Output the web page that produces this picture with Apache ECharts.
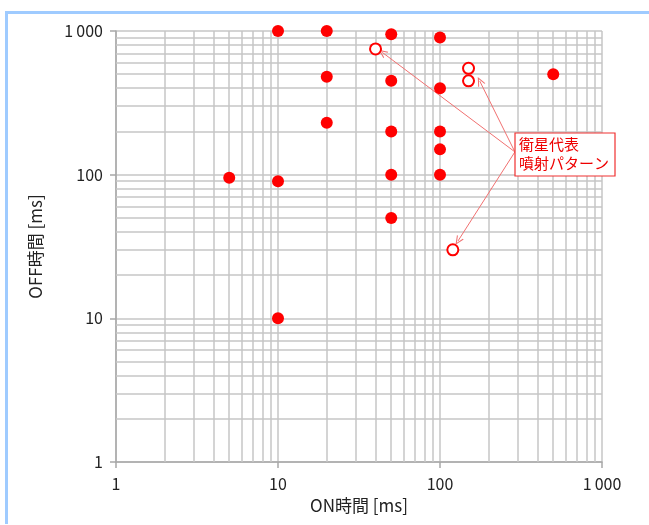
<!DOCTYPE html>
<html>
<head>
<meta charset="utf-8">
<script src="https://cdn.jsdelivr.net/npm/echarts@6/dist/echarts.min.js"></script>
<style>
  html, body { margin: 0; padding: 0; background: #fff; }
  #chart { width: 649px; height: 525px; }
</style>
</head>
<body>
<div id="chart"></div>
<script>
  // 測定パターン (ON時間, OFF時間)
  const onTimes  = [5, 10, 10, 10, 20, 20, 20, 50, 50, 50, 50, 50, 100, 100, 100, 100, 100, 500];
  const offTimes = [95, 1000, 90, 10, 1000, 480, 230, 950, 450, 200, 100, 50, 900, 400, 200, 150, 100, 500];

  // 衛星代表噴射パターン
  const satOn  = [40, 150, 150, 120];
  const satOff = [750, 550, 450, 30];

  // 矢印の先端 (衛星パターンの近く)
  const arrowFrom = [290, 144];
  const arrowTo = [[44, 710], [176, 448], [129, 34.5]];

  const tickLabels = { 1: '1', 10: '10', 100: '100', 1000: '1\u2009000' };
  const minorValues = [];
  [1, 10, 100].forEach(d => { for (let k = 2; k <= 9; k++) minorValues.push(k * d); });

  const gridColor = '#c6c6c6';
  const fontFamily = '"Noto Sans CJK JP", "Noto Sans", sans-serif';

  let myChart = echarts.init(document.getElementById('chart'));

  const logAxis = (name, isY) => ({
    type: 'log',
    logBase: 10,
    min: 1,
    max: 1000,
    name: name,
    nameLocation: 'middle',
    nameGap: isY ? 72 : 30,
    nameTextStyle: { fontFamily: fontFamily, fontSize: 17, color: '#222' },
    axisLine: { show: true, lineStyle: { color: '#a8a8a8', width: 1.5 } },
    axisTick: { show: true, inside: false, length: 6, lineStyle: { color: '#a8a8a8', width: 1.5 } },
    axisLabel: {
      fontFamily: fontFamily, fontSize: 16, color: '#222',
      margin: isY ? 13 : 14,
      formatter: v => tickLabels[Math.round(v)] || ''
    },
    splitLine: { show: true, lineStyle: { color: gridColor, width: 1.5 } },
    minorTick: { show: false },
    minorSplitLine: { show: false }
  });

  const option = {
    animation: false,
    grid: { left: 116, right: 47, top: 31, bottom: 63 },
    xAxis: logAxis('ON時間 [ms]', false),
    yAxis: logAxis('OFF時間 [ms]', true),
    graphic: [
      { type: 'rect', shape: { x: 5, y: 11, width: 644, height: 3 }, style: { fill: '#9fcbff' }, silent: true },
      { type: 'rect', shape: { x: 5, y: 11, width: 3, height: 513 }, style: { fill: '#9fcbff' }, silent: true },
      {
        type: 'rect', z: 100, silent: true,
        shape: { x: 515, y: 133, width: 100, height: 43 },
        style: { fill: '#fff', stroke: '#f03030', lineWidth: 1.2 }
      },
      {
        type: 'text', z: 101, silent: true, x: 519, y: 135,
        style: { text: '衛星代表\n噴射パターン', fill: '#ee0000', font: '15px ' + fontFamily, lineHeight: 19 }
      }
    ],
    series: [
      {
        // 補助目盛線
        type: 'scatter',
        data: [],
        silent: true,
        markLine: {
          silent: true,
          symbol: ['none', 'none'],
          animation: false,
          label: { show: false },
          lineStyle: { color: gridColor, width: 1.5, type: 'solid' },
          data: minorValues.map(v => ({ xAxis: v })).concat(minorValues.map(v => ({ yAxis: v })))
        },
        z: 1
      },
      {
        name: '測定',
        type: 'scatter',
        symbol: 'circle',
        symbolSize: 12,
        itemStyle: { color: '#ff0000', opacity: 1 },
        data: onTimes.map((v, i) => [v, offTimes[i]]),
        z: 5
      },
      {
        name: '衛星代表噴射パターン',
        type: 'scatter',
        symbol: 'circle',
        symbolSize: 11,
        itemStyle: { color: '#fff', borderColor: '#ff0000', borderWidth: 2, opacity: 1 },
        data: satOn.map((v, i) => [v, satOff[i]]),
        markLine: {
          silent: true,
          animation: false,
          symbol: ['none', 'path://M0,10 L5,0 L10,10 L8.6,10 L5,2.8 L1.4,10 Z'],
          symbolSize: [8, 9],
          label: { show: false },
          lineStyle: { color: '#f07070', width: 1, type: 'solid' },
          data: arrowTo.map(p => [{ coord: arrowFrom }, { coord: p }])
        },
        z: 5
      }
    ]
  };
  myChart.setOption(option);
</script>
</body>
</html>
